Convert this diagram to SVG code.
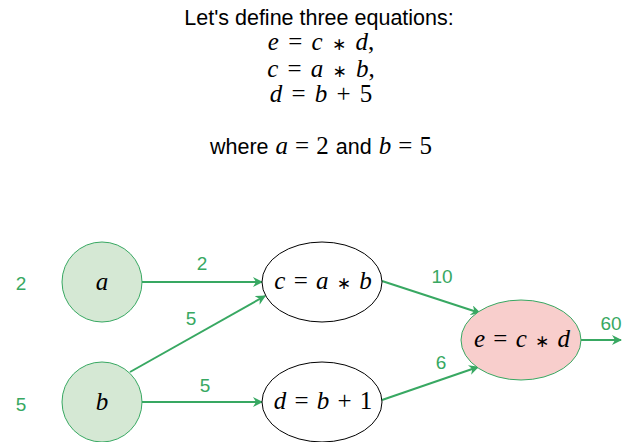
<svg xmlns="http://www.w3.org/2000/svg" width="633" height="442" viewBox="0 0 633 442">
<style>
.t{font-family:"Liberation Sans",Arial,sans-serif;font-size:21.5px;fill:#000;text-anchor:middle}
.m{font-family:"Liberation Serif","Times New Roman",serif;font-size:25px;fill:#000;text-anchor:middle;word-spacing:3px}
.n{word-spacing:2px}
.ms{font-family:"Liberation Serif","Times New Roman",serif;font-size:25px}
.i{font-style:italic}
.st{font-family:"DejaVu Sans",sans-serif;font-size:17px;font-style:normal}
.g{font-family:"Liberation Sans",Arial,sans-serif;font-size:19px;fill:#38a862;text-anchor:middle}
.in{fill:#d5e8d4;stroke:#38a862;stroke-width:1}
.op{fill:#fff;stroke:#000;stroke-width:1}
.out{fill:#f8cecc;stroke:#38a862;stroke-width:1}
.e{stroke:#38a862;stroke-width:2;fill:none;marker-end:url(#ah)}
</style>
<defs>
<marker id="ah" viewBox="0 0 10 10" refX="9" refY="5" markerWidth="5" markerHeight="5" orient="auto" markerUnits="strokeWidth">
<path d="M0,0 L10,5 L0,10 L3,5 Z" fill="#38a862"/>
</marker>
</defs>
<g id="title">
<text class="t" x="319" y="25">Let's define three equations:</text>
<text class="m" x="321" y="50"><tspan class="i">e</tspan> = <tspan class="i">c</tspan> <tspan class="st">∗</tspan> <tspan class="i">d</tspan>,</text>
<text class="m" x="321" y="77"><tspan class="i">c</tspan> = <tspan class="i">a</tspan> <tspan class="st">∗</tspan> <tspan class="i">b</tspan>,</text>
<text class="m" x="321" y="102"><tspan class="i">d</tspan> = <tspan class="i">b</tspan> + 5</text>
<text class="t" x="321" y="154" style="word-spacing:1px">where <tspan class="ms i">a</tspan> <tspan class="ms">= 2</tspan> and <tspan class="ms i">b</tspan> <tspan class="ms">= 5</tspan></text>
</g>
<g id="connectors">
<line class="e" x1="142" y1="282" x2="262" y2="282"/>
<line class="e" x1="130" y1="372" x2="265" y2="296"/>
<line class="e" x1="142" y1="402" x2="262" y2="402"/>
<line class="e" x1="382" y1="281" x2="480" y2="313"/>
<line class="e" x1="382" y1="400" x2="478" y2="367"/>
<line class="e" x1="581" y1="340" x2="621" y2="340"/>
<text class="g" x="202" y="270">2</text>
<text class="g" x="191" y="325">5</text>
<text class="g" x="205" y="392">5</text>
<text class="g" x="442" y="283">10</text>
<text class="g" x="441" y="369">6</text>
<text class="g" x="611" y="330">60</text>
</g>
<g id="input-a-value"><text class="g" x="21" y="290">2</text></g>
<g id="input-b-value"><text class="g" x="21" y="411">5</text></g>
<g id="node-a">
<circle class="in" cx="102" cy="282" r="40"/>
<text class="m i" x="102" y="290">a</text>
</g>
<g id="node-b">
<circle class="in" cx="102" cy="402" r="40"/>
<text class="m i" x="102" y="410">b</text>
</g>
<g id="node-c">
<ellipse class="op" cx="322" cy="282" rx="60" ry="40"/>
<text class="m n" x="323" y="289"><tspan class="i">c</tspan> = <tspan class="i">a</tspan> <tspan class="st">∗</tspan> <tspan class="i">b</tspan></text>
</g>
<g id="node-d">
<ellipse class="op" cx="322" cy="402" rx="60" ry="40"/>
<text class="m n" x="323" y="409"><tspan class="i">d</tspan> = <tspan class="i">b</tspan> + 1</text>
</g>
<g id="node-e">
<ellipse class="out" cx="521" cy="340" rx="60" ry="40"/>
<text class="m n" x="522" y="347"><tspan class="i">e</tspan> = <tspan class="i">c</tspan> <tspan class="st">∗</tspan> <tspan class="i">d</tspan></text>
</g>
</svg>
